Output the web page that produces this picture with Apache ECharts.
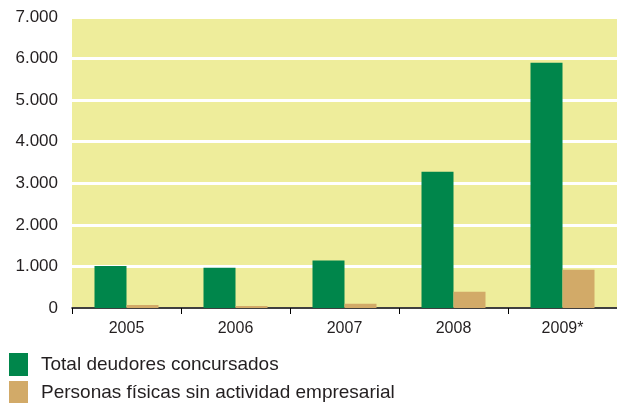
<!DOCTYPE html>
<html>
<head>
<meta charset="utf-8">
<script src="https://cdn.jsdelivr.net/npm/echarts@6/dist/echarts.min.js"></script>
<style>
  html, body { margin: 0; padding: 0; background: #fff; }
  #chart { width: 617px; height: 403px; }
</style>
</head>
<body>
<div id="chart"></div>
<script>
// años y valores
const years = ['2005', '2006', '2007', '2008', '2009*'];
const totalDeudores = [1010, 970, 1140, 3280, 5900];
const personasFisicas = [75, 50, 100, 390, 920];

const chart = echarts.init(document.getElementById('chart'));

function miles(v) {
  return String(v).replace(/\B(?=(\d{3})+(?!\d))/g, '.');
}

const legendBase = {
  left: 9,
  itemWidth: 19,
  itemHeight: 23,
  icon: 'rect',
  padding: 0,
  textStyle: { fontSize: 19, color: '#231f20', padding: [0, 0, 0, 8] }
};

chart.setOption({
  animation: false,
  textStyle: { fontFamily: 'Liberation Sans, Arial, sans-serif' },
  grid: {
    left: 72,
    right: 0,
    top: 17,
    bottom: 95,
    show: true,
    backgroundColor: '#EEED9B',
    borderWidth: 0
  },
  legend: [
    Object.assign({ top: 353, data: ['Total deudores concursados'] }, legendBase),
    Object.assign({ top: 381, data: ['Personas físicas sin actividad empresarial'] }, legendBase)
  ],
  xAxis: {
    type: 'category',
    data: years,
    axisLine: { lineStyle: { color: '#000', width: 1.5 } },
    axisTick: { show: true, length: 6, lineStyle: { color: '#000' } },
    axisLabel: { fontSize: 16, color: '#231f20', margin: 13 }
  },
  yAxis: {
    type: 'value',
    min: 0,
    max: 7000,
    interval: 1000,
    axisLine: { show: false },
    axisTick: { show: false },
    splitLine: { lineStyle: { color: '#fff', width: 3 } },
    axisLabel: { fontSize: 17, color: '#231f20', margin: 14, formatter: miles }
  },
  series: [
    {
      name: 'Total deudores concursados',
      type: 'bar',
      data: totalDeudores,
      barWidth: 32,
      barGap: '0%',
      itemStyle: { color: '#00864B' }
    },
    {
      name: 'Personas físicas sin actividad empresarial',
      type: 'bar',
      data: personasFisicas,
      barWidth: 32,
      itemStyle: { color: '#D2AA68' }
    }
  ]
});
</script>
</body>
</html>
